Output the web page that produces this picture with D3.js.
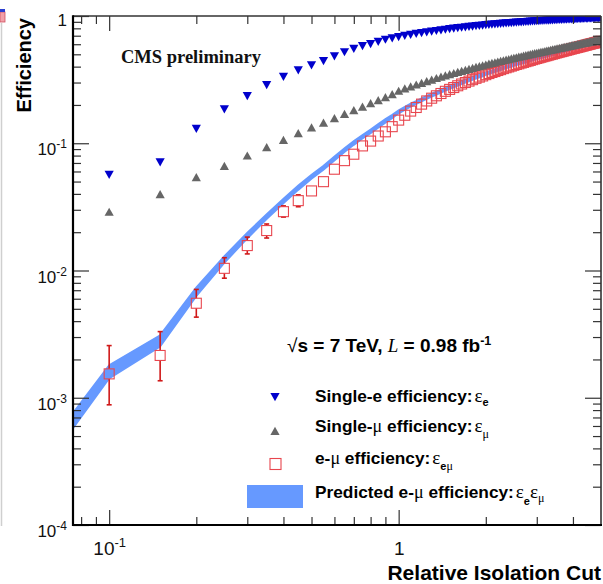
<!DOCTYPE html>
<html><head><meta charset="utf-8">
<script src="https://cdn.jsdelivr.net/npm/d3@7"></script>
<style>body{margin:0;background:#fff}svg{display:block}</style>
</head><body>
<svg id="c" width="603" height="584"></svg>
<script>
// ---- data ----
const cuts = [0.1,0.15,0.2,0.25,0.3,0.35,0.4,0.45,0.5,0.55,0.6,0.65,0.7,0.75,0.8,0.85,0.9,0.95,
1,1.05,1.1,1.15,1.2,1.25,1.3,1.35,1.4,1.45,1.5,1.55,1.6,1.65,1.7,1.75,1.8,1.85,1.9,1.95,
2,2.05,2.1,2.15,2.2,2.25,2.3,2.35,2.4,2.45,2.5,2.55,2.6,2.65,2.7,2.75,2.8,2.85,2.9,2.95,
3,3.05,3.1,3.15,3.2,3.25,3.3,3.35,3.4,3.45,3.5,3.55,3.6,3.65,3.7,3.75,3.8,3.85,3.9,3.95,
4,4.05,4.1,4.15,4.2,4.25,4.3,4.35,4.4,4.45,4.5,4.55,4.6,4.65,4.7,4.75,4.8,4.85,4.9,4.95,5];

const effE = [0.0565,0.071,0.130,0.185,0.235,0.287,0.333,0.374,0.410,0.443,0.483,0.520,0.553,0.580,0.603,0.628,0.652,0.668,
0.684,0.699,0.712,0.724,0.735,0.745,0.755,0.764,0.773,0.781,0.789,0.796,0.803,0.810,0.816,0.822,0.828,0.833,0.838,0.843,
0.848,0.852,0.857,0.861,0.865,0.869,0.872,0.876,0.879,0.882,0.885,0.888,0.891,0.894,0.897,0.899,0.902,0.904,0.907,0.909,
0.911,0.913,0.915,0.917,0.919,0.921,0.923,0.925,0.927,0.928,0.930,0.932,0.933,0.935,0.936,0.938,0.939,0.941,0.942,0.943,
0.945,0.946,0.947,0.949,0.950,0.951,0.952,0.953,0.955,0.956,0.957,0.958,0.959,0.960,0.961,0.962,0.963,0.964,0.965,0.966,
0.967];

const effMu = [0.0289,0.0397,0.054,0.0663,0.080,0.093,0.106,0.120,0.133,0.145,0.157,0.170,0.182,0.194,0.206,0.218,0.230,0.243,
0.258,0.269,0.279,0.289,0.298,0.307,0.316,0.325,0.333,0.341,0.349,0.356,0.363,0.370,0.377,0.384,0.390,0.397,0.403,0.409,
0.415,0.421,0.427,0.432,0.438,0.443,0.448,0.453,0.458,0.463,0.468,0.473,0.478,0.482,0.487,0.491,0.496,0.500,0.505,0.509,
0.513,0.517,0.521,0.525,0.529,0.533,0.537,0.541,0.545,0.549,0.553,0.557,0.560,0.564,0.568,0.571,0.575,0.579,0.582,0.586,
0.589,0.593,0.596,0.600,0.603,0.607,0.610,0.613,0.617,0.620,0.623,0.627,0.630,0.633,0.636,0.640,0.643,0.646,0.649,0.652,
0.655];

const effEMu = [0.00154,0.00215,0.00553,0.0104,0.0157,0.0206,0.0290,0.0354,0.0422,0.0499,0.0625,0.0730,0.0820,0.0953,0.1040,0.1140,0.1230,0.1350,
0.152,0.166,0.179,0.191,0.203,0.215,0.226,0.236,0.246,0.256,0.265,0.274,0.283,0.292,0.300,0.308,0.316,0.324,0.331,0.338,
0.346,0.353,0.360,0.366,0.373,0.379,0.386,0.392,0.398,0.404,0.410,0.416,0.421,0.427,0.432,0.438,0.443,0.448,0.454,0.459,
0.464,0.469,0.474,0.479,0.484,0.488,0.493,0.498,0.502,0.507,0.512,0.516,0.521,0.525,0.529,0.534,0.538,0.542,0.547,0.551,
0.555,0.559,0.563,0.567,0.571,0.575,0.579,0.583,0.587,0.591,0.595,0.599,0.603,0.607,0.610,0.614,0.618,0.622,0.626,0.629,
0.633];

// error bars of e-mu efficiency (visible ones)
const effEMuUpper = [0.00257,0.00331,0.0071,0.0126,0.0183,0.0232,0.0322,0.0393];
const effEMuLower = [0.00088,0.00136,0.0043,0.0087,0.0135,0.0180,0.0263,0.0317];

// predicted band (starts one step left of the frame)
const predCuts = [0.05].concat(cuts);
const predEff = [0.00019,0.00160,0.00280,0.0068,0.0122,0.0188,0.0265,0.0352,0.0447,0.0545,0.0641,0.0758,0.0884,0.1006,0.1125,0.1242,0.1369,0.1500,0.1623,
0.1765,0.188,0.199,0.209,0.219,0.229,0.239,0.248,0.257,0.266,0.275,0.283,0.291,0.300,0.308,0.316,0.323,0.331,0.338,0.345,
0.352,0.359,0.366,0.372,0.379,0.385,0.391,0.397,0.403,0.408,0.414,0.420,0.426,0.431,0.437,0.441,0.447,0.452,0.458,0.463,
0.467,0.472,0.477,0.481,0.486,0.491,0.496,0.500,0.505,0.509,0.514,0.519,0.523,0.527,0.532,0.536,0.540,0.545,0.548,0.553,
0.557,0.561,0.564,0.569,0.573,0.577,0.580,0.584,0.589,0.593,0.596,0.600,0.604,0.608,0.611,0.616,0.619,0.623,0.626,0.630,
0.633];
const predErr = [0.18,0.13,0.11,0.085,0.065,0.055,0.048,0.044,0.042,0.04,0.04,0.04,0.038,0.038,0.036,0.036,0.035,0.035,0.034,
0.03,0.03,0.03,0.03,0.03,0.03,0.03,0.03,0.03,0.03,0.03,0.03,0.03,0.03,0.03,0.03,0.03,0.03,0.03,0.03,
0.025,0.025,0.025,0.025,0.025,0.025,0.025,0.025,0.025,0.025,0.025,0.025,0.025,0.025,0.025,0.025,0.025,0.025,0.025,0.025,
0.025,0.025,0.025,0.025,0.025,0.025,0.025,0.025,0.025,0.025,0.025,0.025,0.025,0.025,0.025,0.025,0.025,0.025,0.025,0.025,
0.025,0.025,0.025,0.025,0.025,0.025,0.025,0.025,0.025,0.025,0.025,0.025,0.025,0.025,0.025,0.025,0.025,0.025,0.025,0.025,
0.025];

const yMajorExp = ["-4","-3","-2","-1",""];
const xMajorLabels = [{v:0.1, base:"10", exp:"-1"},{v:1, base:"1", exp:""}];

// ---- drawing ----
const SANS = "'Liberation Sans', Arial, Helvetica, sans-serif";
const SERIF = "'Liberation Serif', 'Times New Roman', serif";
const svg = d3.select("#c");
const L=73, R=601, T=16, B=525;
const x = d3.scaleLog().domain([0.075,5]).range([L,R]);
const y = d3.scaleLog().domain([1e-4,1]).range([B,T]);

// neighbour-figure remnants at far left
svg.append("line").attr("x1",1.5).attr("x2",1.5).attr("y1",23).attr("y2",526).attr("stroke","#cfcfcf").attr("stroke-width",1.5);
svg.append("rect").attr("x",0).attr("y",12).attr("width",5).attr("height",10).attr("fill","#f2a0a8").attr("stroke","#d05060").attr("stroke-width",0.8);
svg.append("rect").attr("x",0).attr("y",9).attr("width",5).attr("height",3).attr("fill","#2b3fd0");

svg.append("defs").append("clipPath").attr("id","clip").append("rect")
  .attr("x",L).attr("y",T).attr("width",R-L).attr("height",B-T);
const plot = svg.append("g").attr("clip-path","url(#clip)");

// predicted band
const bandData = predCuts.map((c,i)=>({c, v:predEff[i], e:predErr[i]}));
plot.append("path").datum(bandData)
  .attr("fill","#6699ff").attr("stroke","#6699ff").attr("stroke-width",1.6)
  .attr("d", d3.area().x(d=>x(d.c)).y0(d=>y(d.v/(1+d.e))).y1(d=>y(d.v*(1+d.e))));

// e-mu error bars
const half = 5;
effEMuUpper.forEach((u,i)=>{
  const cx = x(cuts[i]), cy = y(effEMu[i]);
  const yu = y(u), yl = y(effEMuLower[i]);
  const g = plot.append("g").attr("stroke","#d01818").attr("stroke-width",1.6);
  if (yu < cy-half) g.append("line").attr("x1",cx).attr("x2",cx).attr("y1",yu).attr("y2",cy-half);
  if (yl > cy+half) g.append("line").attr("x1",cx).attr("x2",cx).attr("y1",cy+half).attr("y2",yl);
  g.append("line").attr("x1",cx-2.5).attr("x2",cx+2.5).attr("y1",yu).attr("y2",yu);
  g.append("line").attr("x1",cx-2.5).attr("x2",cx+2.5).attr("y1",yl).attr("y2",yl);
});

// e-mu squares
plot.append("g").selectAll("rect").data(cuts).join("rect")
  .attr("x",(d)=>x(d)-half).attr("y",(d,i)=>y(effEMu[i])-half)
  .attr("width",2*half).attr("height",2*half)
  .attr("fill","none").attr("stroke","#e8464e").attr("stroke-width",1.1);

const triUp = "M-4.6,4 L4.6,4 L0,-4.2 Z";
const triDown = "M-4.6,-4 L4.6,-4 L0,4.2 Z";
// single mu (grey up triangles)
plot.append("g").selectAll("path").data(cuts).join("path")
  .attr("transform",(d,i)=>`translate(${x(d)},${y(effMu[i])})`)
  .attr("d",triUp).attr("fill","#666666");
// single e (blue down triangles)
plot.append("g").selectAll("path").data(cuts).join("path")
  .attr("transform",(d,i)=>`translate(${x(d)},${y(effE[i])})`)
  .attr("d",triDown).attr("fill","#0000cc");

// ---- axes ----
const yMajor = [1e-4,1e-3,1e-2,1e-1,1];
const yMinor = [];
[1e-4,1e-3,1e-2,1e-1].forEach(p=>{for(let k=2;k<=9;k++) yMinor.push(p*k);});
const xMajor = [0.1,1];
const xMinor = [0.08,0.09,0.2,0.3,0.4,0.5,0.6,0.7,0.8,0.9,2,3,4];

function styleAxis(g){
  g.select(".domain").remove();
  g.selectAll(".tick line").attr("stroke","#333").attr("stroke-width",1.2);
}
// left
svg.append("g").attr("transform",`translate(${L},0)`)
  .call(d3.axisLeft(y).tickValues(yMinor).tickSize(-8).tickFormat("")).call(styleAxis);
const gl = svg.append("g").attr("transform",`translate(${L},0)`)
  .call(d3.axisLeft(y).tickValues(yMajor).tickSize(-16).tickPadding(6).tickFormat(""))
  .call(styleAxis);
gl.selectAll(".tick text").each(function(d,i){
  const t=d3.select(this).attr("font-family",SANS).attr("font-size",17).attr("fill","#111")
    .attr("text-anchor","end");
  const e = yMajorExp[i];
  if(e===""){ t.attr("dy",9).append("tspan").text("1"); }
  else{
    t.attr("dy",11.5);
    t.append("tspan").text("10");
    t.append("tspan").attr("dy",-7).attr("font-size",12).text(e);
  }
});
// right
svg.append("g").attr("transform",`translate(${R},0)`)
  .call(d3.axisRight(y).tickValues(yMinor).tickSize(-8).tickFormat("")).call(styleAxis);
svg.append("g").attr("transform",`translate(${R},0)`)
  .call(d3.axisRight(y).tickValues(yMajor).tickSize(-16).tickFormat("")).call(styleAxis);
// bottom
svg.append("g").attr("transform",`translate(0,${B})`)
  .call(d3.axisBottom(x).tickValues(xMinor).tickSize(-8).tickFormat("")).call(styleAxis);
const gb = svg.append("g").attr("transform",`translate(0,${B})`)
  .call(d3.axisBottom(x).tickValues(xMajor).tickSize(-15).tickPadding(30).tickFormat(""))
  .call(styleAxis);
gb.selectAll(".tick text").each(function(d,i){
  const lab = xMajorLabels[i];
  const t=d3.select(this).attr("font-family",SANS).attr("font-size",19).attr("fill","#111")
    .attr("text-anchor","middle").attr("dy",0);
  t.append("tspan").text(lab.base);
  if(lab.exp) t.append("tspan").attr("dy",-8).attr("font-size",13).text(lab.exp);
});
// top
svg.append("g").attr("transform",`translate(0,${T})`)
  .call(d3.axisTop(x).tickValues(xMinor).tickSize(-8).tickFormat("")).call(styleAxis);
svg.append("g").attr("transform",`translate(0,${T})`)
  .call(d3.axisTop(x).tickValues(xMajor).tickSize(-15).tickFormat("")).call(styleAxis);

// frame
svg.append("line").attr("x1",L).attr("x2",R).attr("y1",T).attr("y2",T).attr("stroke","#333").attr("stroke-width",1.6);
svg.append("line").attr("x1",R).attr("x2",R).attr("y1",T).attr("y2",B).attr("stroke","#333").attr("stroke-width",1.6);
svg.append("line").attr("x1",L).attr("x2",L).attr("y1",T-0.8).attr("y2",B+1).attr("stroke","#000").attr("stroke-width",2.2);
svg.append("line").attr("x1",L-1).attr("x2",R+1).attr("y1",B).attr("y2",B).attr("stroke","#000").attr("stroke-width",2.2);

// axis titles
svg.append("text").attr("transform","translate(31,18) rotate(-90)")
  .attr("text-anchor","end").attr("font-family",SANS).attr("font-weight","bold")
  .attr("font-size",20).attr("fill","#000").text("Efficiency");
svg.append("text").attr("x",601).attr("y",580).attr("text-anchor","end")
  .attr("font-family",SANS).attr("font-weight","bold").attr("font-size",21).attr("fill","#000")
  .text("Relative Isolation Cut");

// CMS preliminary
svg.append("text").attr("x",121).attr("y",63).attr("font-family",SERIF).attr("font-weight","bold")
  .attr("font-size",18.5).attr("fill","#111").text("CMS preliminary");

// energy / lumi
const en = svg.append("text").attr("x",287).attr("y",352).attr("font-family",SANS).attr("font-weight","bold")
  .attr("font-size",19).attr("fill","#000");
en.append("tspan").attr("font-weight","normal").text("√");
en.append("tspan").text("s = 7 TeV, ");
en.append("tspan").attr("font-family",SERIF).attr("font-style","italic").attr("font-weight","normal").text("L");
en.append("tspan").text(" = 0.98 fb");
en.append("tspan").attr("dy",-7).attr("font-size",12.5).text("-1");

// legend
const legX = 315;
svg.append("path").attr("transform","translate(275,397)").attr("d",triDown).attr("fill","#0000cc");
svg.append("path").attr("transform","translate(275,431)").attr("d",triUp).attr("fill","#666666");
svg.append("rect").attr("x",270).attr("y",458.5).attr("width",11).attr("height",11).attr("fill","none")
  .attr("stroke","#e8464e").attr("stroke-width",1.1);
svg.append("rect").attr("x",247).attr("y",485).attr("width",56).attr("height",23).attr("fill","#6699ff");

function legText(yb, parts){
  const t = svg.append("text").attr("x",legX).attr("y",yb).attr("font-family",SANS)
    .attr("font-weight","bold").attr("font-size",17.3).attr("fill","#000");
  parts.forEach(p=>{
    const s = t.append("tspan").text(p.t);
    if(p.serif) s.attr("font-family",SERIF).attr("font-weight","normal");
    if(p.fs) s.attr("font-size",p.fs);
    if(p.dy) s.attr("dy",p.dy);
    if(p.dx) s.attr("dx",p.dx);
  });
}
legText(402,[{t:"Single-e efficiency:"},{t:"ε",serif:1,fs:19,dx:2},{t:"e",fs:11,dy:4}]);
legText(432,[{t:"Single-"},{t:"μ",serif:1,fs:18},{t:" efficiency:"},{t:"ε",serif:1,fs:19,dx:2},{t:"μ",serif:1,fs:12,dy:6}]);
legText(464,[{t:"e-"},{t:"μ",serif:1,fs:18},{t:" efficiency:"},{t:"ε",serif:1,fs:19,dx:2},{t:"e",fs:11,dy:6},{t:"μ",serif:1,fs:12}]);
legText(498,[{t:"Predicted e-"},{t:"μ",serif:1,fs:18},{t:" efficiency:"},{t:"ε",serif:1,fs:19,dx:2},{t:"e",fs:11,dy:7},{t:"ε",serif:1,fs:19,dy:-7},{t:"μ",serif:1,fs:12,dy:4}]);
</script>
</body></html>
